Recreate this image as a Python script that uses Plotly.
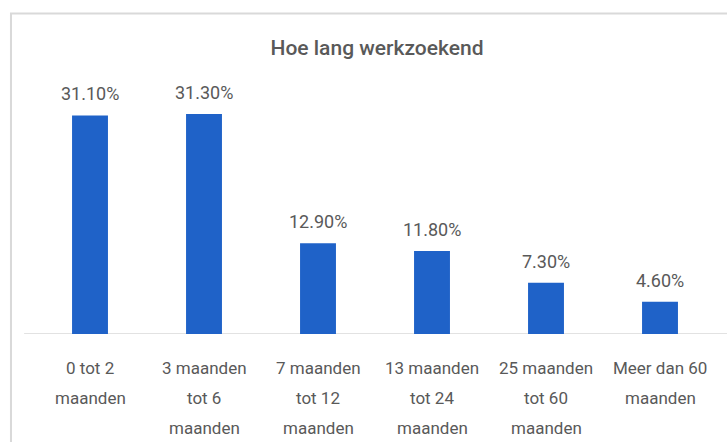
import plotly.graph_objects as go

categories = ['0 tot 2<br>maanden', '3 maanden<br>tot 6<br>maanden', '7 maanden<br>tot 12<br>maanden',
	'13 maanden<br>tot 24<br>maanden', '25 maanden<br>tot 60<br>maanden', 'Meer dan 60<br>maanden']
values = [31.1, 31.3, 12.9, 11.8, 7.3, 4.6]
labels = ['%.2f%%' % v for v in values]

fontname = 'Roboto, sans-serif'
grey = '#595959'

fig = go.Figure(go.Bar(
	x=categories,
	y=values,
	cliponaxis=False,
	marker=dict(color='#1f62c8', line=dict(width=0))
))

# value labels above the bars
for cat, val, lab in zip(categories, values, labels):
	fig.add_annotation(x=cat, y=val, text=lab, showarrow=False, yanchor='bottom', yshift=9,
		font=dict(size=18, color=grey, family=fontname))

# category labels, one annotation per line for the wider line spacing
for cat in categories:
	for i, line in enumerate(cat.split('<br>')):
		fig.add_annotation(x=cat, y=0, text=line, showarrow=False, yanchor='middle', yshift=-34-30*i,
			font=dict(size=17, color=grey, family=fontname))

fig.update_layout(
	width=727, height=442,
	margin=dict(l=33, r=10, t=88, b=108),
	paper_bgcolor='white', plot_bgcolor='white',
	bargap=0.685,
	showlegend=False,
	title=dict(text='Hoe lang werkzoekend', x=0.5186, xanchor='center', y=1-48/442, yanchor='middle',
		font=dict(size=21, color=grey, family=fontname, weight=500)),
	font=dict(family=fontname, color=grey),
	xaxis=dict(showline=False, ticks='', automargin=False, showticklabels=False),
	yaxis=dict(range=[0, 35], visible=False, showgrid=False, zeroline=False, automargin=False),
	shapes=[
		# chart frame, cut off at right and bottom
		dict(type='rect', xref='paper', yref='paper', x0=-0.0322, x1=1.2, y0=-1, y1=1.3028,
			line=dict(color='#d9d9d9', width=2), fillcolor='rgba(0,0,0,0)', layer='below'),
		# baseline
		dict(type='line', xref='paper', yref='y', x0=-0.013, x1=1.03, y0=0, y1=0,
			line=dict(color='#d9d9d9', width=1.5), layer='below'),
	]
)

fig.write_html('out.html', config={'displayModeBar': False}, post_script="document.body.style.margin='0';")
